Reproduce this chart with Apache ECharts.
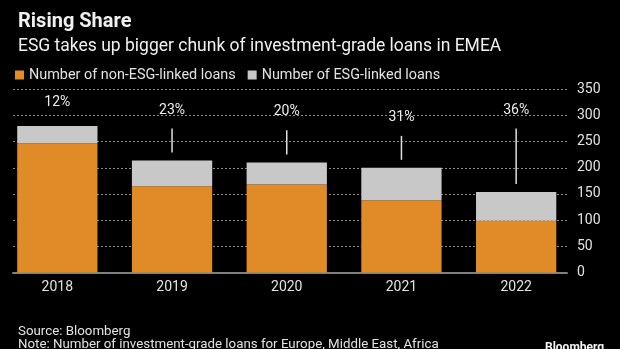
<!DOCTYPE html>
<html>
<head>
<meta charset="utf-8">
<script src="https://cdn.jsdelivr.net/npm/echarts@6/dist/echarts.min.js"></script>
<style>
  html, body { margin: 0; padding: 0; background: #000; }
  #chart { width: 620px; height: 349px; }
</style>
</head>
<body>
<div id="chart"></div>
<script>
// Investment-grade loans in EMEA, split by ESG linkage
const years = ['2018', '2019', '2020', '2021', '2022'];
const nonEsgLoans = [247, 165, 168, 138, 99];
const esgLoans = [33, 49, 42, 62, 55];
// Height (in loan counts) where each share callout sits, and where its leader line starts
const calloutLevel = [324, 309, 307, 296, 310];
const leaderTop = [null, 275, 272, 261, 275];
const yTicks = [0, 50, 100, 150, 200, 250, 300, 350];

const FONT = 'Roboto, "Noto Sans", sans-serif';
const ORANGE = '#e08b27';
const GREY = '#c8c8c8';
const TEXT = '#e2e2e2';

const totals = years.map((_, i) => nonEsgLoans[i] + esgLoans[i]);
const shares = years.map((_, i) => Math.round(esgLoans[i] / totals[i] * 100) + '%');

const yMin = yTicks[0], yMax = yTicks[yTicks.length - 1], yStep = yTicks[1] - yTicks[0];

const chart = echarts.init(document.getElementById('chart'), null, { renderer: 'canvas' });

chart.setOption({
  backgroundColor: '#000',
  animation: false,
  textStyle: { fontFamily: FONT },
  title: [
    { text: 'Rising Share', left: 13, top: 7,
      textStyle: { color: '#f0f0f0', fontSize: 20, fontWeight: 'bold', fontFamily: FONT } },
    { text: 'ESG takes up bigger chunk of investment-grade loans in EMEA', left: 13, top: 33,
      textStyle: { color: '#f0f0f0', fontSize: 17.5, fontWeight: 'normal', fontFamily: FONT } },
    { text: 'Source: Bloomberg', left: 13, top: 320,
      textStyle: { color: TEXT, fontSize: 13.3, fontWeight: 'normal', fontFamily: FONT } },
    { text: 'Note: Number of investment-grade loans for Europe, Middle East, Africa', left: 13, top: 333,
      textStyle: { color: TEXT, fontSize: 13.3, fontWeight: 'normal', fontFamily: FONT } },
    { text: 'Bloomberg', left: 540, top: 337,
      textStyle: { color: '#f4f4f4', fontSize: 12, fontWeight: 'bold', fontFamily: FONT } }
  ],
  legend: {
    left: 10, top: 63,
    itemWidth: 9, itemHeight: 9, itemGap: 12,
    icon: 'rect',
    textStyle: { color: TEXT, fontSize: 14.4, fontFamily: FONT },
    data: ['Number of non-ESG-linked loans', 'Number of ESG-linked loans']
  },
  grid: [
    // bars
    { left: -4, right: 46.5, top: 89.3, bottom: 76.5 },
    // dotted gridlines and value axis
    { left: 13, right: 53, top: 89.3, bottom: 76.5 }
  ],
  xAxis: [
    {
      type: 'category', gridIndex: 0, data: years,
      axisLine: { show: false }, axisTick: { show: false },
      axisLabel: { color: TEXT, fontSize: 14, margin: 8, fontFamily: FONT }
    },
    {
      type: 'value', gridIndex: 1, min: 0, max: 1, show: true,
      axisLine: { show: true, lineStyle: { color: '#808080', width: 2 } },
      axisTick: { show: false }, axisLabel: { show: false }, splitLine: { show: false }
    }
  ],
  yAxis: [
    {
      type: 'value', gridIndex: 0, min: yMin, max: yMax, interval: yStep,
      show: false, splitLine: { show: false }
    },
    {
      type: 'value', gridIndex: 1, position: 'right', min: yMin, max: yMax, interval: yStep,
      axisLine: { show: false }, axisTick: { show: false },
      axisLabel: { color: TEXT, fontSize: 14, margin: 10, fontFamily: FONT },
      splitLine: { show: true, lineStyle: { color: '#8a8a8a', type: [2, 2], width: 1 } }
    }
  ],
  series: [
    {
      name: 'Number of non-ESG-linked loans', type: 'bar', stack: 'loans',
      xAxisIndex: 0, yAxisIndex: 0, barWidth: '70%',
      itemStyle: { color: ORANGE }, data: nonEsgLoans
    },
    {
      name: 'Number of ESG-linked loans', type: 'bar', stack: 'loans',
      xAxisIndex: 0, yAxisIndex: 0, barWidth: '70%',
      itemStyle: { color: GREY }, data: esgLoans
    },
    {
      // ESG share callouts above each bar
      type: 'custom', xAxisIndex: 0, yAxisIndex: 0, silent: true, z: 5,
      data: years.map((_, i) => [i, totals[i], calloutLevel[i], leaderTop[i] == null ? NaN : leaderTop[i]]),
      renderItem: function (params, api) {
        const i = api.value(0);
        const barTop = api.coord([i, api.value(1)]);
        const labelPt = api.coord([i, api.value(2)]);
        const children = [{
          type: 'text',
          style: {
            text: shares[i], x: labelPt[0], y: labelPt[1],
            textAlign: 'center', textVerticalAlign: 'middle',
            fill: '#ececec', font: '14px ' + FONT
          }
        }];
        const lt = api.value(3);
        if (!isNaN(lt)) {
          const topPt = api.coord([i, lt]);
          children.push({
            type: 'line',
            shape: { x1: topPt[0], y1: topPt[1], x2: topPt[0], y2: barTop[1] - 8 },
            style: { stroke: '#e0e0e0', lineWidth: 1.5 }
          });
        }
        return { type: 'group', children: children };
      }
    }
  ]
});
</script>
</body>
</html>
